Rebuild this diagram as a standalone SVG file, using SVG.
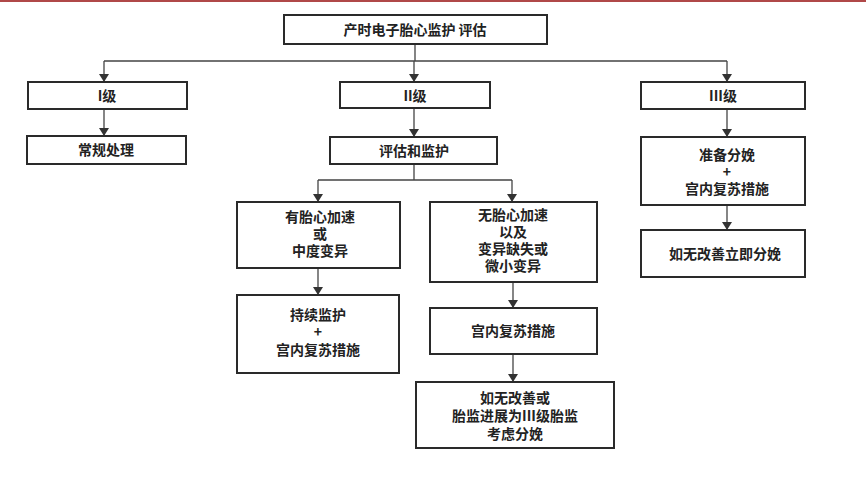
<svg xmlns="http://www.w3.org/2000/svg" width="866" height="483" viewBox="0 0 866 483">
<defs>
<marker id="ah" markerWidth="8" markerHeight="10" refX="7" refY="5" orient="auto" markerUnits="userSpaceOnUse"><path d="M0,0 L8,5 L0,10 Z" fill="#333"/></marker>
<style>
rect{fill:#fff;stroke:#2a2a2a;stroke-width:2}
text{font-family:"Noto Sans CJK SC","Liberation Serif",serif;font-size:14px;font-weight:bold;fill:#222;text-anchor:middle}
.c{stroke:#444;stroke-width:1.3;fill:none}
.a{marker-end:url(#ah)}
</style>
</defs>
<rect x="0" y="0" width="866" height="483" style="fill:#fff;stroke:none"/>
<line x1="0" y1="1" x2="866" y2="1" stroke="#b04848" stroke-width="2"/>
<g id="connectors">
<path class="c" d="M415,44 V61 M104,61 H727"/>
<path class="c a" d="M104,61 V81"/>
<path class="c a" d="M414,61 V81"/>
<path class="c a" d="M727,61 V81"/>
<path class="c a" d="M104,109 V135"/>
<path class="c a" d="M414,108 V136"/>
<path class="c a" d="M727,109 V136"/>
<path class="c a" d="M727,205 V229"/>
<path class="c" d="M414,164 V180 M318,180 H512"/>
<path class="c a" d="M318,180 V201"/>
<path class="c a" d="M512,180 V201"/>
<path class="c a" d="M318,268 V294"/>
<path class="c a" d="M513,282 V307"/>
<path class="c a" d="M513,354 V381"/>
</g>
<g id="top"><rect x="284" y="15" width="263" height="29"/><text x="415" y="35">产时电子胎心监护 评估</text></g>
<g id="l1"><rect x="28" y="82" width="159" height="27"/><text x="107" y="101">I级</text></g>
<g id="l2"><rect x="340" y="82" width="150" height="26"/><text x="415" y="101">II级</text></g>
<g id="l3"><rect x="641" y="82" width="164" height="27"/><text x="723" y="101">III级</text></g>
<g id="routine"><rect x="27" y="136" width="159" height="28"/><text x="106" y="155">常规处理</text></g>
<g id="eval"><rect x="330" y="137" width="167" height="27"/><text x="414" y="156">评估和监护</text></g>
<g id="prep"><rect x="641" y="137" width="164" height="68"/><text x="727" y="160">准备分娩</text><text x="727" y="177">+</text><text x="727" y="194">宫内复苏措施</text></g>
<g id="deliver"><rect x="641" y="230" width="164" height="47"/><text x="725" y="259">如无改善立即分娩</text></g>
<g id="accel"><rect x="237" y="202" width="163" height="66"/><text x="320" y="222">有胎心加速</text><text x="320" y="239">或</text><text x="320" y="256">中度变异</text></g>
<g id="noaccel"><rect x="430" y="202" width="167" height="80"/><text x="513" y="220">无胎心加速</text><text x="513" y="237">以及</text><text x="513" y="254">变异缺失或</text><text x="513" y="271">微小变异</text></g>
<g id="continue"><rect x="237" y="295" width="162" height="78"/><text x="318" y="320">持续监护</text><text x="318" y="337">+</text><text x="318" y="355">宫内复苏措施</text></g>
<g id="resus"><rect x="430" y="308" width="167" height="46"/><text x="513" y="336">宫内复苏措施</text></g>
<g id="consider"><rect x="416" y="382" width="198" height="66"/><text x="515" y="403">如无改善或</text><text x="515" y="421">胎监进展为III级胎监</text><text x="515" y="439">考虑分娩</text></g>
</svg>
